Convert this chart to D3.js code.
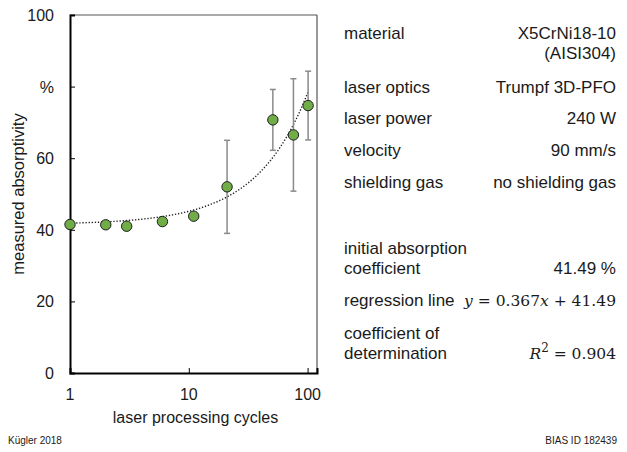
<!DOCTYPE html>
<html>
<head>
<meta charset="utf-8">
<script src="https://cdn.jsdelivr.net/npm/d3@7"></script>
<style>
  html, body { margin: 0; padding: 0; background: #fff; }
  svg { display: block; }
  text { font-family: "Liberation Sans", Arial, sans-serif; fill: #1a1a1a; }
</style>
</head>
<body>
<svg id="chart" width="627" height="452"></svg>
<script>
// ---- data ----
const cycles = [1, 2, 3, 6, 11, 21, 51, 76, 101];
const absorptivity = [41.49, 41.4, 41.0, 42.3, 43.8, 52.0, 70.7, 66.5, 74.7];
const errors = [0, 0, 0, 0, 0, 13.0, 8.5, 15.7, 9.6];
const yTicks = [0, 20, 40, 60, 80, 100];
const yTickLabels = ["0", "20", "40", "60", "%", "100"];
const xTicks = [1, 10, 100];
const regSlope = 0.367, regIntercept = 41.49;
const infoRows = [
  { label: ["material"], value: ["X5CrNi18-10", "(AISI304)"] },
  { label: ["laser optics"], value: ["Trumpf 3D-PFO"] },
  { label: ["laser power"], value: ["240 W"] },
  { label: ["velocity"], value: ["90 mm/s"] },
  { label: ["shielding gas"], value: ["no shielding gas"] }
];

// ---- layout ----
const svg = d3.select("#chart");
const L = 70, R = 317, T = 15, B = 373;
const x = d3.scaleLog().domain([1, 120]).range([L, R]);
const y = d3.scaleLinear().domain([0, 100]).range([B, T]);

// frame (top/right)
svg.append("line").attr("x1", L).attr("x2", R).attr("y1", T).attr("y2", T)
  .attr("stroke", "#555").attr("stroke-width", 1.2);
svg.append("line").attr("x1", R).attr("x2", R).attr("y1", T).attr("y2", B)
  .attr("stroke", "#555").attr("stroke-width", 1.2);

// y axis
const yAxis = svg.append("g").attr("transform", `translate(${L},0)`)
  .call(d3.axisRight(y).tickValues(yTicks).tickSize(5).tickFormat(""));
yAxis.select(".domain").attr("stroke", "#000").attr("stroke-width", 2);
yAxis.selectAll(".tick line").attr("stroke", "#000").attr("stroke-width", 1);
svg.selectAll(".ylab").data(yTicks).enter().append("text")
  .attr("x", 54).attr("y", d => y(d) + 6)
  .attr("text-anchor", "end").attr("font-size", 16)
  .text((d, i) => yTickLabels[i]);

// x axis
const xAxis = svg.append("g").attr("transform", `translate(0,${B})`)
  .call(d3.axisTop(x).tickValues(xTicks).tickSize(5).tickFormat(""));
xAxis.select(".domain").attr("stroke", "#000").attr("stroke-width", 2);
xAxis.selectAll(".tick line").attr("stroke", "#000").attr("stroke-width", 1);
svg.selectAll(".xlab").data(xTicks).enter().append("text")
  .attr("x", d => x(d)).attr("y", 400)
  .attr("text-anchor", "middle").attr("font-size", 16)
  .text(d => d);

// axis titles
svg.append("text").attr("x", (L + R) / 2 + 2).attr("y", 423)
  .attr("text-anchor", "middle").attr("font-size", 16)
  .text("laser processing cycles");
svg.append("text").attr("transform", "translate(24,194) rotate(-90)")
  .attr("text-anchor", "middle").attr("font-size", 16.5)
  .text("measured absorptivity");

// regression curve
const regPts = d3.range(0, 1.0001, 0.01).map(t => {
  const cx = Math.pow(10, t * Math.log10(cycles[cycles.length - 1]));
  return [cx, regSlope * cx + regIntercept];
});
svg.append("path").datum(regPts)
  .attr("d", d3.line().x(d => x(d[0])).y(d => y(d[1])))
  .attr("fill", "none").attr("stroke", "#222").attr("stroke-width", 1.4)
  .attr("stroke-dasharray", "1.3,1.8");

// error bars
const data = cycles.map((c, i) => ({ c, v: absorptivity[i], e: errors[i] }));
const eb = svg.selectAll(".eb").data(data.filter(d => d.e > 0)).enter().append("g");
eb.append("line").attr("x1", d => x(d.c)).attr("x2", d => x(d.c))
  .attr("y1", d => y(d.v - d.e)).attr("y2", d => y(d.v + d.e))
  .attr("stroke", "#8a8a8a").attr("stroke-width", 1.5);
[1, -1].forEach(s => {
  eb.append("line").attr("x1", d => x(d.c) - 3).attr("x2", d => x(d.c) + 3)
    .attr("y1", d => y(d.v + s * d.e)).attr("y2", d => y(d.v + s * d.e))
    .attr("stroke", "#8a8a8a").attr("stroke-width", 1.5);
});

// points
svg.selectAll(".pt").data(data).enter().append("circle")
  .attr("cx", d => x(d.c)).attr("cy", d => y(d.v)).attr("r", 5.2)
  .attr("fill", "#70AD47").attr("stroke", "#1e1e1e").attr("stroke-width", 1);

// info table
const LX = 344, VX = 616, FS = 17;
const rowY = [39, 93, 124, 156, 188];
infoRows.forEach((r, i) => {
  svg.append("text").attr("x", LX).attr("y", rowY[i]).attr("font-size", FS).text(r.label[0]);
  r.value.forEach((v, j) => {
    svg.append("text").attr("x", VX).attr("y", rowY[i] + j * 20)
      .attr("text-anchor", "end").attr("font-size", FS).text(v);
  });
});
svg.append("text").attr("x", LX).attr("y", 254).attr("font-size", FS).text("initial absorption");
svg.append("text").attr("x", LX).attr("y", 274).attr("font-size", FS).text("coefficient");
svg.append("text").attr("x", VX).attr("y", 274).attr("text-anchor", "end").attr("font-size", FS).text("41.49 %");
svg.append("text").attr("x", LX).attr("y", 306).attr("font-size", FS).text("regression line");
svg.append("text").attr("x", LX).attr("y", 339).attr("font-size", FS).text("coefficient of");
svg.append("text").attr("x", LX).attr("y", 359).attr("font-size", FS).text("determination");

const serif = "'DejaVu Serif', 'Liberation Serif', serif";
const eq1 = svg.append("text").attr("x", VX).attr("y", 306).attr("text-anchor", "end")
  .attr("font-size", 15.5).style("font-family", serif);
eq1.append("tspan").attr("font-style", "italic").text("y");
eq1.append("tspan").text(" = " + regSlope.toFixed(3));
eq1.append("tspan").attr("font-style", "italic").text("x");
eq1.append("tspan").text(" + " + regIntercept.toFixed(2));

const eq2 = svg.append("text").attr("x", VX).attr("y", 359).attr("text-anchor", "end")
  .attr("font-size", 15.5).style("font-family", serif);
eq2.append("tspan").attr("font-style", "italic").text("R");
eq2.append("tspan").attr("dy", -7).attr("font-size", 12).text("2");
eq2.append("tspan").attr("dy", 7).text(" = 0.904");

// footnotes
svg.append("text").attr("x", 8).attr("y", 444).attr("font-size", 10).attr("fill", "#333").text("Kügler 2018");
svg.append("text").attr("x", 617).attr("y", 444).attr("text-anchor", "end").attr("font-size", 10).attr("fill", "#333").text("BIAS ID 182439");
</script>
</body>
</html>
